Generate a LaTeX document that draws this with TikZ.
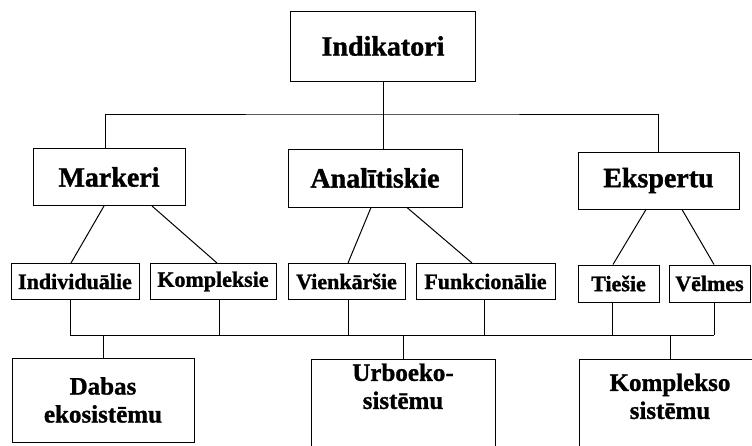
\documentclass[tikz,border=0pt]{standalone}
\usepackage{fontspec}
\setmainfont[BoldFeatures={FakeBold=1.2}]{Liberation Serif}
\usepackage{tikz}
\usetikzlibrary{positioning,calc}
\tikzset{
  basebox/.style={rectangle,draw=black,line width=1pt,align=center,
                  inner sep=1pt},
  topnode/.style={basebox,font=\fontsize{28}{30}\selectfont\bfseries},
  subnode/.style={basebox,font=\fontsize{22}{24}\selectfont\bfseries,
                  minimum height=36pt},
  sysnode/.style={basebox,font=\fontsize{25}{28}\selectfont\bfseries},
  opennode/.style={sysnode,anchor=north,text depth=110pt},
  conn/.style={line width=1pt,color=black}
}

\begin{document}
\begin{tikzpicture}[x=1pt,y=-1pt]
  \useasboundingbox (0,0) rectangle (752,445);

  % Top
  \node[topnode,minimum width=185pt,minimum height=70pt] (ind) at (383,46) {Indikatori};
  \coordinate (hub) at (383,114);

  % Groups
  \node[topnode,minimum width=152pt,minimum height=57pt] (mark) at (109,177) {Markeri};
  \node[topnode,minimum width=174pt,minimum height=58pt] (ana) at (375,178) {Analītiskie};
  \node[topnode,minimum width=161pt,minimum height=57pt] (eksp) at (658.5,180.5) {Ekspertu};

  % Kinds
  \node[subnode,minimum width=128pt] (indiv) at (75,281.5) {Individuālie};
  \node[subnode,minimum width=126pt] (komp) at (213,281.5) {Kompleksie};
  \node[subnode,minimum width=117pt] (vienk) at (346.5,281.5) {Vienkāršie};
  \node[subnode,minimum width=139pt] (func) at (485.5,281.5) {Funkcionālie};
  \node[subnode,minimum width=81pt,minimum height=37pt] (ties) at (618.5,283.5) {Tiešie};
  \node[subnode,minimum width=81pt,minimum height=37pt] (velm) at (709.5,283.5) {Vēlmes};
  \coordinate (bus) at (383,335);

  % Systems
  \node[sysnode,minimum width=182pt,minimum height=84pt] (dabas) at (103,400)
      {Dabas\\ekosistēmu};
  \node[opennode,minimum width=184pt,inner ysep=4pt] (urbo) at (403,359)
      {Urboeko-\\sistēmu};
  \node[opennode,minimum width=182pt,inner ysep=14pt] (kompl) at (670,359)
      {Komplekso\\sistēmu};

  % Tree lines
  \draw[conn] (ind.south) -- (ind.south |- ana.north);
  \draw[conn] ([xshift=-4pt]mark.north) |- (hub) -| (eksp.north);
  \draw[conn] ([xshift=-5pt]mark.south) -- ([xshift=-4pt]indiv.north);
  \draw[conn] ([xshift=43pt]mark.south) -- ([xshift=4pt]komp.north);
  \draw[conn] ([xshift=-4pt]ana.south) -- ([xshift=1.5pt]vienk.north);
  \draw[conn] ([xshift=32pt]ana.south) -- ([xshift=-13.5pt]func.north);
  \draw[conn] ([xshift=-12.5pt]eksp.south) -- ([xshift=-5.5pt]ties.north);
  \draw[conn] ([xshift=23.5pt]eksp.south) -- ([xshift=4.5pt]velm.north);

  \foreach \n/\s in {indiv/-5,komp/6,vienk/1.5,func/-1.5,ties/-6.5,velm/4.5}
    \draw[conn] ([xshift=\s pt]\n.south) -- ([xshift=\s pt]\n.south |- bus);
  \draw[conn] ([xshift=-5pt]indiv.south |- bus) -- ([xshift=4.5pt]velm.south |- bus);
  \foreach \n in {dabas,urbo,kompl}
    \draw[conn] (\n.north |- bus) -- (\n.north);

\end{tikzpicture}
\end{document}
